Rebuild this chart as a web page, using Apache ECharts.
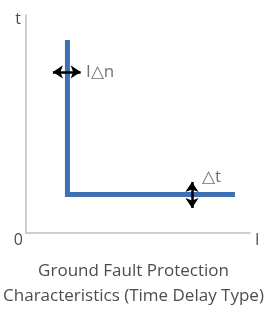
<!DOCTYPE html>
<html><head><meta charset="utf-8">
<script src="https://cdn.jsdelivr.net/npm/echarts@6/dist/echarts.min.js"></script>
<style>html,body{margin:0;padding:0;background:#fff}#c{width:267px;height:311px}</style>
</head><body><div id="c"></div>
<script>
// Characteristic curve (schematic, axis units 0-100)
var curveX = [18.5, 18.5, 93.3];
var curveY = [88.5, 17.7, 17.7];
// Double-headed arrows
var arrowH = [[12.0, 73.9], [24.4, 73.9]];
var arrowV = [[74.1, 23.4], [74.1, 11.5]];
// Annotation labels
var labelNames = ['I\u25B3n', '\u25B3t'];
var labelPos = [[26.8, 73.9], [78.6, 25.5]];
var titleLines = ['Ground Fault Protection', 'Characteristics (Time Delay Type)'];

var font = '"Open Sans", "Noto Sans", sans-serif';
var txt = '#4d4d4d';
var chart = echarts.init(document.getElementById('c'), null, {renderer: 'canvas'});
chart.setOption({
  animation: false,
  backgroundColor: '#fff',
  title: {
    text: titleLines.join('\n'), left: 'center', top: 259, padding: 0,
    textStyle: {fontFamily: font, fontSize: 17, fontWeight: 'normal', color: txt, lineHeight: 25}
  },
  grid: {left: 26, right: 17, top: 15, bottom: 78},
  xAxis: {
    type: 'value', min: 0, max: 100, interval: 100,
    name: 'I', nameLocation: 'end', nameGap: 5,
    nameTextStyle: {fontFamily: font, fontSize: 16, color: txt, align: 'left', verticalAlign: 'top', padding: [-1, 0, 0, 0]},
    axisLine: {show: true, lineStyle: {color: '#bfbfbf', width: 1.5}},
    axisTick: {show: false}, splitLine: {show: false},
    axisLabel: {formatter: function (v) { return v === 0 ? '0' : ''; }, align: 'right', margin: -1, padding: [0, 3, 0, 0],
      fontFamily: font, fontSize: 16, color: txt}
  },
  yAxis: {
    type: 'value', min: 0, max: 100, interval: 100,
    name: 't', nameLocation: 'end', nameGap: -4,
    nameTextStyle: {fontFamily: font, fontSize: 16, color: txt, align: 'right', verticalAlign: 'middle', padding: [0, 5, 0, 0]},
    axisLine: {show: true, lineStyle: {color: '#bfbfbf', width: 1.5}},
    axisTick: {show: false}, splitLine: {show: false}, axisLabel: {show: false}
  },
  series: [
    {
      type: 'line', data: curveX.map(function (x, i) { return [x, curveY[i]]; }),
      symbol: 'none', lineStyle: {color: '#3e70b3', width: 5, join: 'miter', cap: 'butt'}, z: 2
    },
    {
      type: 'lines', coordinateSystem: 'cartesian2d',
      symbol: ['arrow', 'arrow'], symbolSize: 10,
      lineStyle: {color: '#000', width: 2.5, opacity: 1},
      data: [{coords: arrowH}, {coords: arrowV}], z: 3
    },
    {
      type: 'scatter', symbolSize: 0,
      data: labelPos.map(function (p, i) { return {value: p, name: labelNames[i]}; }),
      label: {show: true, position: 'right', distance: 0, formatter: '{b}',
        fontFamily: font, fontSize: 17, color: txt}
    }
  ]
});
</script></body></html>
